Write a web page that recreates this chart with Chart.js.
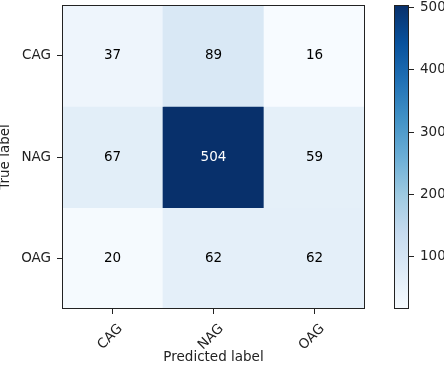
<!DOCTYPE html>
<html><head><meta charset="utf-8">
<script src="https://cdn.jsdelivr.net/npm/chart.js@4/dist/chart.umd.min.js"></script>
<style>
html,body{margin:0;padding:0;background:#fff;width:444px;height:368px;overflow:hidden;}
#c1{position:absolute;left:0;top:0;}
#c2{position:absolute;left:380px;top:0;}
</style></head><body>
<canvas id="c1" width="380" height="368"></canvas>
<canvas id="c2" width="64" height="368"></canvas>
<script>
const predictedLabels = ['CAG', 'NAG', 'OAG'];
const trueLabels = ['CAG', 'NAG', 'OAG'];
const rowCAG = [37, 89, 16];
const rowNAG = [67, 504, 59];
const rowOAG = [20, 62, 62];
const colorbarTicks = [100, 200, 300, 400, 500];

const rows = [rowCAG, rowNAG, rowOAG];
const allVals = rows.flat();
const vmin = Math.min(...allVals), vmax = Math.max(...allVals);
const thresh = vmax / 2;

const BLUES = ['#f7fbff','#deebf7','#c6dbef','#9ecae1','#6baed6','#4292c6','#2171b5','#08519c','#08306b'];
function hexToRgb(h){return [parseInt(h.substr(1,2),16),parseInt(h.substr(3,2),16),parseInt(h.substr(5,2),16)];}
function blues(t){
  t = Math.max(0, Math.min(1, t));
  const p = t * (BLUES.length - 1);
  const i = Math.min(Math.floor(p), BLUES.length - 2);
  const f = p - i;
  const a = hexToRgb(BLUES[i]), b = hexToRgb(BLUES[i+1]);
  const c = a.map((v,k)=>Math.round(v + (b[k]-v)*f));
  return 'rgb(' + c.join(',') + ')';
}
const FONT = 'DejaVu Sans';
const FS = 13.5;
const INK = '#222';

const framePlugin = {
  id: 'frame',
  afterDraw(chart){
    const a = chart.chartArea, ctx = chart.ctx;
    ctx.save();
    ctx.strokeStyle = INK; ctx.lineWidth = 1;
    ctx.strokeRect(Math.round(a.left)+0.5, Math.round(a.top)+0.5, Math.round(a.right-a.left)-1, Math.round(a.bottom-a.top)-1);
    ctx.restore();
  }
};

const cellTextPlugin = {
  id: 'cellText',
  afterDatasetsDraw(chart){
    const ctx = chart.ctx;
    ctx.save();
    ctx.font = FS + 'px "' + FONT + '"';
    ctx.textAlign = 'center';
    ctx.textBaseline = 'middle';
    chart.data.datasets.forEach((ds, i) => {
      const meta = chart.getDatasetMeta(i);
      meta.data.forEach((el, j) => {
        const v = rows[i][j];
        ctx.fillStyle = v > thresh ? '#ffffff' : '#000000';
        ctx.fillText(String(v), el.x, (el.y + el.base) / 2);
      });
    });
    ctx.restore();
  }
};

function noPad(s){ s.paddingTop = 0; s.paddingBottom = 0; s.paddingLeft = 0; s.paddingRight = 0; }

const datasets = rows.map((row, r) => ({
  label: trueLabels[r],
  data: row.map(() => [r, r + 1]),
  backgroundColor: row.map(v => blues((v - vmin) / (vmax - vmin))),
  borderWidth: 0,
  categoryPercentage: 1,
  barPercentage: 1,
  grouped: false
}));

new Chart(document.getElementById('c1'), {
  type: 'bar',
  data: { labels: predictedLabels, datasets },
  options: {
    responsive: false, animation: false,
    layout: { padding: { top: 5, right: 15, left: 0, bottom: 0 } },
    plugins: { legend: { display: false }, tooltip: { enabled: false } },
    scales: {
      x: {
        type: 'category',
        grid: { display: true, drawOnChartArea: false, offset: false, tickLength: 5, tickColor: INK, tickWidth: 1 },
        border: { display: false },
        ticks: { minRotation: 45, maxRotation: 45, color: INK, font: { family: FONT, size: FS }, padding: 7, labelOffset: 8 },
        title: { display: true, text: 'Predicted label', color: INK, font: { family: FONT, size: FS }, padding: { top: 0, bottom: 2 } },
        afterFit(s){ s.height = 59; noPad(s); }
      },
      y: {
        type: 'linear', min: 0, max: 3, reverse: true,
        afterBuildTicks(s){ s.ticks = trueLabels.map((_, i) => ({ value: i + 0.5 })); },
        grid: { display: true, drawOnChartArea: false, tickLength: 5, tickColor: INK, tickWidth: 1 },
        border: { display: false },
        ticks: { color: INK, font: { family: FONT, size: FS }, padding: 6, autoSkip: false,
          callback(value){ return trueLabels[Math.round(value - 0.5)]; } },
        title: { display: true, text: 'True label', color: INK, font: { family: FONT, size: FS }, padding: { top: -3, bottom: 0 } },
        afterFit(s){ s.width = 62; noPad(s); }
      }
    }
  },
  plugins: [framePlugin, cellTextPlugin]
});

new Chart(document.getElementById('c2'), {
  type: 'bar',
  data: { labels: ['colorbar'], datasets: [{
    data: [[vmin, vmax]],
    borderWidth: 0, categoryPercentage: 1, barPercentage: 1,
    backgroundColor(ctx){
      const a = ctx.chart.chartArea;
      if (!a) return BLUES[0];
      const g = ctx.chart.ctx.createLinearGradient(0, a.bottom, 0, a.top);
      BLUES.forEach((c, i) => g.addColorStop(i / (BLUES.length - 1), c));
      return g;
    }
  }]},
  options: {
    responsive: false, animation: false,
    layout: { padding: { top: 5, left: 14, right: 0, bottom: 59 } },
    plugins: { legend: { display: false }, tooltip: { enabled: false } },
    scales: {
      x: { display: false },
      y: {
        type: 'linear', position: 'right', min: vmin, max: vmax,
        afterBuildTicks(s){ s.ticks = colorbarTicks.map(v => ({ value: v })); },
        grid: { display: true, drawOnChartArea: false, tickLength: 5, tickColor: INK, tickWidth: 1 },
        border: { display: false },
        ticks: { color: INK, font: { family: FONT, size: FS }, padding: 6, autoSkip: false },
        afterFit(s){ s.width = 35; noPad(s); }
      }
    }
  },
  plugins: [framePlugin]
});
</script>
</body></html>
